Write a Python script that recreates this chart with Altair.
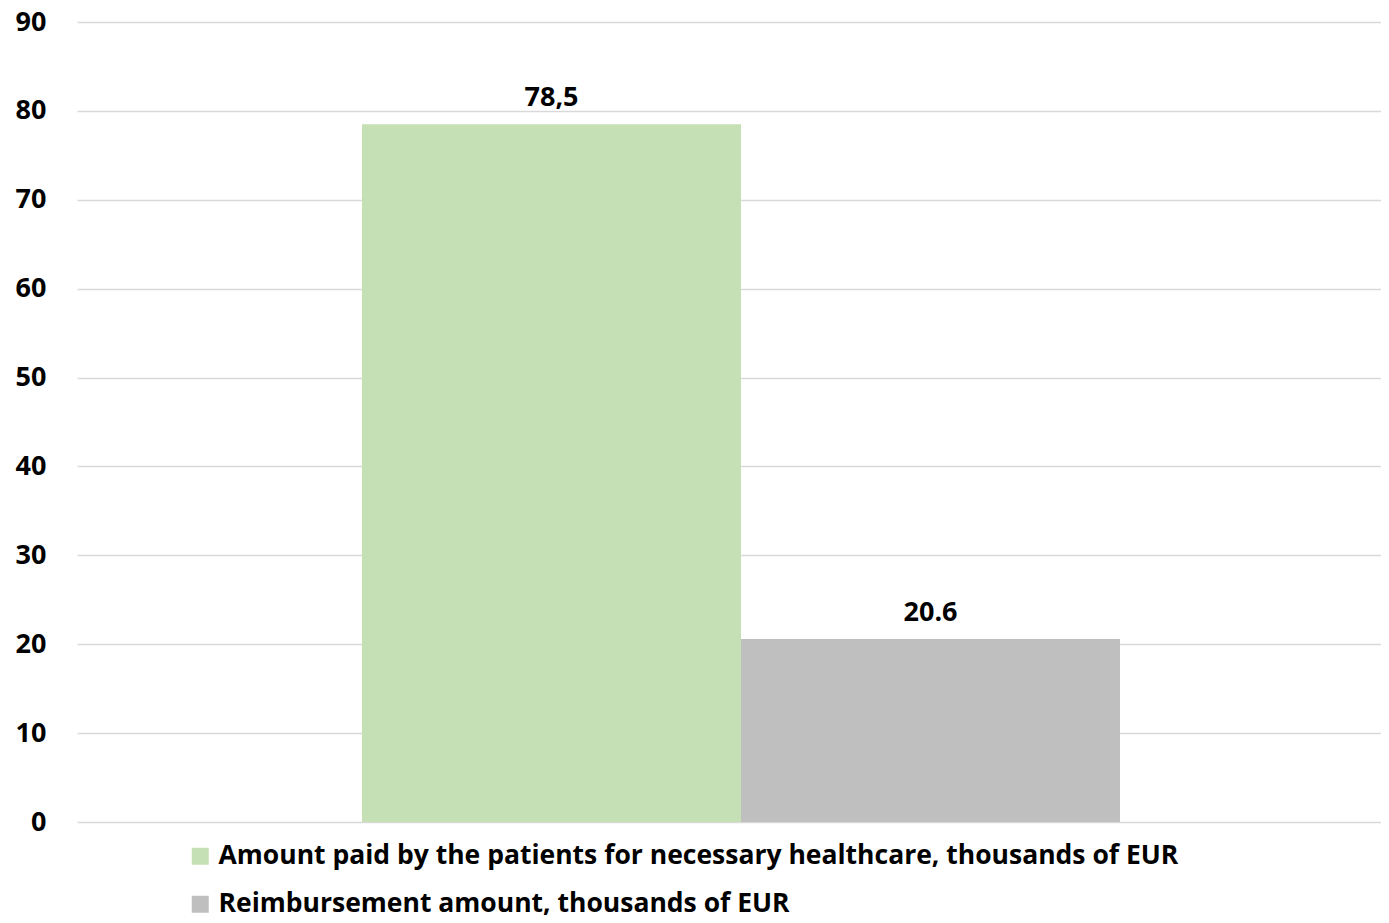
import altair as alt
import pandas as pd

series = [
    "Amount paid by the patients for necessary healthcare, thousands of EUR",
    "Reimbursement amount, thousands of EUR",
]
values = [78.5, 20.6]
labels = ["78,5", "20.6"]
colors = ["#C5E0B4", "#BFBFBF"]
y_ticks = [0, 10, 20, 30, 40, 50, 60, 70, 80, 90]

df = pd.DataFrame({"series": series, "value": values, "label": labels})

FONT = "Open Sans"
FS = 26.5

x = alt.X(
    "series:N",
    sort=series,
    axis=None,
    scale=alt.Scale(paddingInner=0, paddingOuter=0.7203, align=0.522),
)
y = alt.Y(
    "value:Q",
    scale=alt.Scale(domain=[0, 90], nice=False),
    axis=alt.Axis(
        values=y_ticks,
        title=None,
        domain=False,
        ticks=False,
        grid=True,
        gridColor="#D9D9D9",
        gridWidth=1.5,
        labelFont=FONT,
        labelFontWeight="bold",
        labelFontSize=27,
        labelColor="#000000",
        labelPadding=31,
    ),
)

bars = alt.Chart(df).mark_bar().encode(
    x=x,
    y=y,
    color=alt.Color(
        "series:N",
        sort=series,
        scale=alt.Scale(domain=series, range=colors),
        legend=alt.Legend(
            title=None,
            orient="none",
            legendX=110,
            legendY=821,
            direction="vertical",
            symbolType="square",
            symbolSize=289,
            symbolStrokeWidth=0,
            symbolOpacity=1,
            labelFont=FONT,
            labelFontWeight="bold",
            labelFontSize=FS,
            labelColor="#000000",
            labelLimit=2000,
            labelOffset=5,
            rowPadding=21,
        ),
    ),
)

text = alt.Chart(df).mark_text(
    dy=-26, font=FONT, fontWeight="bold", fontSize=27, color="#000000", baseline="middle"
).encode(x=x, y=y, text="label:N")

chart = (
    alt.layer(bars, text)
    .properties(
        width=1304,
        height=800,
        padding={"left": 69, "top": 14, "right": 0, "bottom": 93},
        autosize=alt.AutoSizeParams(type="none"),
    )
    .configure_view(stroke=None)
)

chart.save("out.html", embed_options={"renderer": "svg", "actions": False})
